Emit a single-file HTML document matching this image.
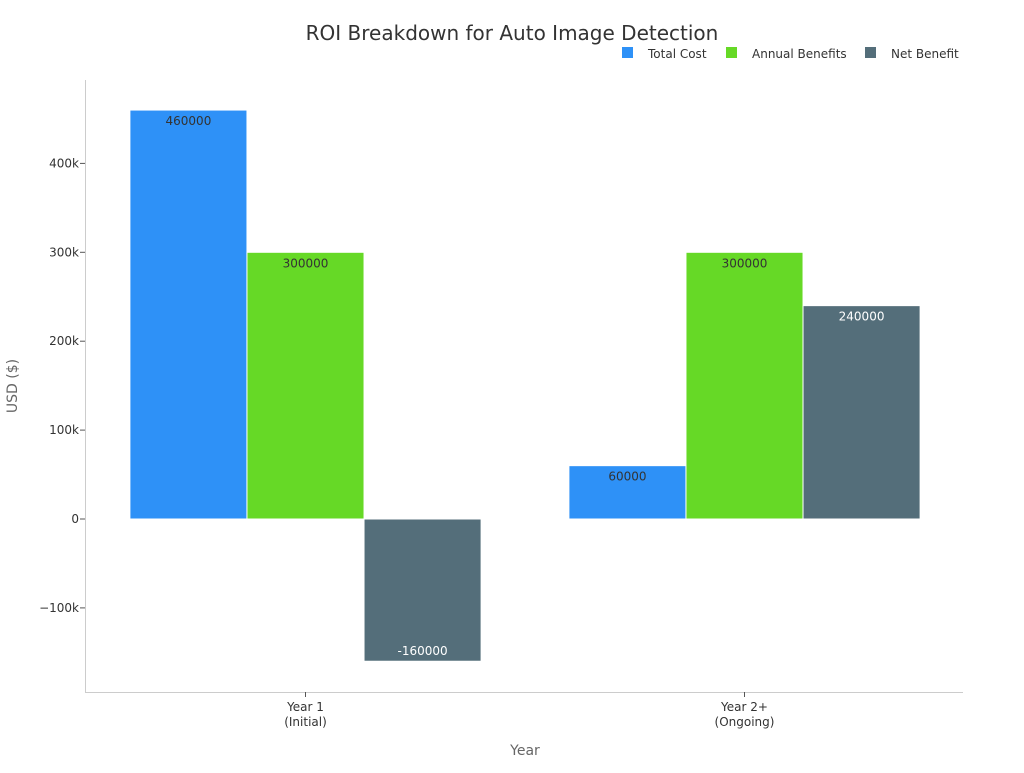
<!DOCTYPE html>
<html><head><meta charset="utf-8"><style>
body{margin:0;background:#fff;font-family:"Liberation Sans","DejaVu Sans",sans-serif;}
svg text{font-family:"DejaVu Sans","Liberation Sans",sans-serif;}
</style></head><body>
<svg id="chart" width="1024" height="768" viewBox="0 0 1024 768">
<text x="512" y="40" text-anchor="middle" font-size="20" fill="#333">ROI Breakdown for Auto Image Detection</text>
<g id="legend"></g>
<line x1="85.5" y1="80" x2="85.5" y2="692" stroke="#ccc"/>
<line x1="85" y1="692.5" x2="963" y2="692.5" stroke="#ccc"/>
<g id="yticks"></g>
<g id="bars"></g>
<g id="xticks"></g>
<text x="17" y="386" text-anchor="middle" font-size="14" fill="#666" transform="rotate(-90 17 386)">USD ($)</text>
<text x="525" y="755" text-anchor="middle" font-size="14" fill="#666">Year</text>
</svg>
<script>
const categories=[["Year 1","(Initial)"],["Year 2+","(Ongoing)"]];
const seriesNames=["Total Cost","Annual Benefits","Net Benefit"];
const totalCost=[460000,60000];
const annualBenefits=[300000,300000];
const netBenefit=[-160000,240000];
const yTickValues=[-100000,0,100000,200000,300000,400000];
const yTickLabels=["\u2212100k","0","100k","200k","300k","400k"];

const NS="http://www.w3.org/2000/svg";
const colors=["#2E91F7","#66D926","#546E7A"];
const textColors=["#333","#333","#fff"];
const series=[totalCost,annualBenefits,netBenefit];
const left=86,right=964;
function y(v){return 519-v*(88.9/100000);}
const band=(right-left)/categories.length;
function mk(tag,attrs,parent){const e=document.createElementNS(NS,tag);for(const k in attrs)e.setAttribute(k,attrs[k]);parent.appendChild(e);return e;}
const yt=document.getElementById('yticks');
yTickValues.forEach((v,i)=>{
 const l=mk('line',{x1:80,x2:85,y1:y(v),y2:y(v),stroke:'#555'},yt);
 
 
 const t=mk('text',{x:79,y:y(v)+4,'text-anchor':'end','font-size':12,fill:'#333'},yt);
 t.textContent=yTickLabels[i];
 
 
});
const bg=document.getElementById('bars');
const xt=document.getElementById('xticks');
categories.forEach((c,ci)=>{
 const cx=left+band*(ci+0.5);
 const gw=band*0.8,bw=gw/3;
 series.forEach((s,si)=>{
  const v=s[ci];const x0=cx-gw/2+si*bw;
  const top=Math.min(y(v),y(0)),h=Math.abs(y(v)-y(0));
  const r=mk('rect',{x:x0,y:top,width:bw,height:h,fill:colors[si],stroke:'#fff','stroke-width':1},bg);
  
  
  const ly=v>=0?y(v)+15:y(v)-6;
  const t=mk('text',{x:x0+bw/2,y:ly,'text-anchor':'middle','font-size':12,fill:textColors[si]},bg);
  t.textContent=String(v);
  
  
 });
 const tk=mk('line',{x1:cx,x2:cx,y1:692,y2:697,stroke:'#555'},xt);
 
 
 c.forEach((line,li)=>{
  const t=mk('text',{x:cx,y:711+li*15,'text-anchor':'middle','font-size':12,fill:'#333'},xt);
  t.textContent=line;
  
  
 });
});
const lg=document.getElementById('legend');
const lx=[622,726,865];
seriesNames.forEach((n,i)=>{
 const r=mk('rect',{x:lx[i],y:47,width:11,height:11,fill:colors[i]},lg);
 
 
 const t=mk('text',{x:lx[i]+26,y:58,'font-size':12,fill:'#333'},lg);
 t.textContent=n;
 
 
});
</script>
</body></html>
